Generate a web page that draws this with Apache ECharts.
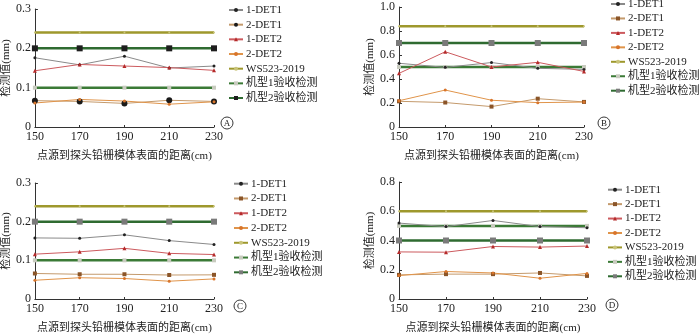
<!DOCTYPE html>
<html><head><meta charset="utf-8">
<script src="https://cdn.jsdelivr.net/npm/echarts@6/dist/echarts.min.js"></script>
<style>html,body{margin:0;padding:0;background:#fff}#c{width:700px;height:335px}</style>
</head><body><div id="c"></div>
<script>
const distances = [150, 170, 190, 210, 230];
const seriesNames = ['1-DET1', '2-DET1', '1-DET2', '2-DET2', 'WS523-2019', '机型1验收检测', '机型2验收检测'];
const xTicks = ['150', '170', '190', '210', '230'];
// Panel A
const A_1DET1 = [0.176, 0.158, 0.180, 0.150, 0.155];
const A_2DET1 = [0.067, 0.065, 0.060, 0.068, 0.065];
const A_1DET2 = [0.143, 0.159, 0.155, 0.151, 0.144];
const A_2DET2 = [0.061, 0.070, 0.066, 0.058, 0.064];
const A_WS = [0.24, 0.24, 0.24, 0.24, 0.24];
const A_M1 = [0.1, 0.1, 0.1, 0.1, 0.1];
const A_M2 = [0.2, 0.2, 0.2, 0.2, 0.2];
// Panel B
const B_1DET1 = [0.531, 0.497, 0.537, 0.489, 0.480];
const B_2DET1 = [0.214, 0.204, 0.170, 0.236, 0.209];
const B_1DET2 = [0.447, 0.627, 0.500, 0.539, 0.463];
const B_2DET2 = [0.219, 0.308, 0.223, 0.203, 0.208];
const B_WS = [0.84, 0.84, 0.84, 0.84, 0.84];
const B_M1 = [0.5, 0.5, 0.5, 0.5, 0.5];
const B_M2 = [0.7, 0.7, 0.7, 0.7, 0.7];
// Panel C
const C_1DET1 = [0.158, 0.157, 0.166, 0.151, 0.141];
const C_2DET1 = [0.066, 0.064, 0.064, 0.062, 0.0625];
const C_1DET2 = [0.116, 0.122, 0.131, 0.118, 0.115];
const C_2DET2 = [0.0485, 0.055, 0.053, 0.046, 0.052];
const C_WS = [0.24, 0.24, 0.24, 0.24, 0.24];
const C_M1 = [0.1, 0.1, 0.1, 0.1, 0.1];
const C_M2 = [0.2, 0.2, 0.2, 0.2, 0.2];
// Panel D
const D_1DET1 = [0.519, 0.495, 0.537, 0.495, 0.487];
const D_2DET1 = [0.165, 0.170, 0.170, 0.178, 0.158];
const D_1DET2 = [0.322, 0.320, 0.359, 0.355, 0.362];
const D_2DET2 = [0.160, 0.188, 0.178, 0.142, 0.175];
const D_WS = [0.6, 0.6, 0.6, 0.6, 0.6];
const D_M1 = [0.5, 0.5, 0.5, 0.5, 0.5];
const D_M2 = [0.4, 0.4, 0.4, 0.4, 0.4];

const panels = [
  {label: 'A', data: [A_1DET1, A_2DET1, A_1DET2, A_2DET2, A_WS, A_M1, A_M2], max: 0.3, interval: 0.1,
   grid: {left: 33, top: 9, width: 181, height: 118}, legend: {left: 228, top: 4, gap: 14.67}, circle: [227, 123], blackMarkers: true},
  {label: 'B', data: [B_1DET1, B_2DET1, B_1DET2, B_2DET2, B_WS, B_M1, B_M2], max: 1.0, interval: 0.2,
   grid: {left: 399, top: 7, width: 185, height: 120}, legend: {left: 610, top: -2, gap: 14.45}, circle: [604, 123]},
  {label: 'C', data: [C_1DET1, C_2DET1, C_1DET2, C_2DET2, C_WS, C_M1, C_M2], max: 0.3, interval: 0.1,
   grid: {left: 33, top: 183, width: 181, height: 122}, legend: {left: 233, top: 177.7, gap: 14.77}, circle: [240, 306]},
  {label: 'D', data: [D_1DET1, D_2DET1, D_1DET2, D_2DET2, D_WS, D_M1, D_M2], max: 0.8, interval: 0.2,
   grid: {left: 399, top: 182, width: 188, height: 122}, legend: {left: 607, top: 183.7, gap: 14.43}, circle: [612, 305]}
];

const serif = '"Liberation Serif", "Noto Sans CJK SC", serif';
const lineCols = ['#8a8a8a', '#c49a6c', '#cc5a5e', '#e0944a', '#9e982c', '#3b7a36', '#2f6b31'];
function markerCfg(i, black) {
  const m = [
    {symbol: 'circle', size: 3, color: '#222'},
    black ? {symbol: 'circle', size: 6, color: '#1a1a1a'} : {symbol: 'rect', size: 4, color: '#8b5528'},
    {symbol: 'triangle', size: 4, color: '#b52a2a'},
    {symbol: 'circle', size: 3, color: '#d8742a'},
    {symbol: 'circle', size: 2, color: '#c9c47a'},
    {symbol: 'rect', size: 4, color: '#c8cbbf'},
    black ? {symbol: 'rect', size: 6, color: '#1e1e1e'} : {symbol: 'rect', size: 6, color: '#7a7a7a'}
  ];
  return m[i];
}
const widths = [1, 1, 1, 1, 2.5, 2.5, 2.5];

const grids = [], xAxes = [], yAxes = [], series = [], legends = [], graphics = [];
panels.forEach((p, pi) => {
  grids.push(Object.assign({containLabel: false}, p.grid));
  xAxes.push({
    type: 'value', gridIndex: pi, min: 150, max: 230, interval: 20,
    name: '点源到探头铅栅模体表面的距离(cm)', nameLocation: 'middle', nameGap: 24,
    nameTextStyle: {fontFamily: serif, fontSize: 11, color: '#222'},
    axisLine: {lineStyle: {color: '#333', width: 1}},
    axisTick: {show: true, inside: true, length: 2, lineStyle: {color: '#333'}},
    axisLabel: {fontFamily: serif, fontSize: 12, color: '#222', margin: 4,
      formatter: v => xTicks[distances.indexOf(v)] || String(v)},
    splitLine: {show: false}
  });
  yAxes.push({
    type: 'value', gridIndex: pi, min: 0, max: p.max, interval: p.interval,
    name: '检测值(mm)', nameLocation: 'middle', nameGap: 22, nameRotate: 90,
    nameTextStyle: {fontFamily: serif, fontSize: 11, color: '#222'},
    axisLine: {show: true, lineStyle: {color: '#333', width: 1}},
    axisTick: {show: true, inside: true, length: 3, lineStyle: {color: '#333'}},
    axisLabel: {fontFamily: serif, fontSize: 12, color: '#222', margin: 4,
      formatter: v => (v === 0 ? '0' : v.toFixed(1))},
    splitLine: {show: false}
  });
  p.data.forEach((arr, si) => {
    const mk = markerCfg(si, p.blackMarkers);
    series.push({
      type: 'line', name: p.label + '|' + seriesNames[si], xAxisIndex: pi, yAxisIndex: pi,
      data: distances.map((d, k) => [d, arr[k]]),
      symbol: mk.symbol, symbolSize: mk.size, showAllSymbol: true,
      itemStyle: {color: mk.color, borderWidth: 0},
      lineStyle: {color: lineCols[si], width: widths[si]},
      z: si >= 4 ? 2 : 3, animation: false
    });
  });
  legends.push({
    left: p.legend.left, top: p.legend.top, orient: 'vertical', padding: 0,
    itemWidth: 14, itemHeight: 5, itemGap: p.legend.gap - 12,
    data: seriesNames.map(n => ({name: p.label + '|' + n})),
    formatter: n => n.split('|')[1],
    textStyle: {fontFamily: serif, fontSize: 11, color: '#222', lineHeight: 12, padding: [0, 0, 0, -2]},
    selectedMode: false
  });
  graphics.push({
    type: 'group', x: p.circle[0], y: p.circle[1],
    children: [
      {type: 'circle', shape: {cx: 0, cy: 0, r: 6}, style: {fill: 'none', stroke: '#222', lineWidth: 0.9}},
      {type: 'text', style: {text: p.label, x: 0, y: 0.5, align: 'center', verticalAlign: 'middle',
        font: '9px "Liberation Serif", serif', fill: '#222'}}
    ]
  });
});

const chart = echarts.init(document.getElementById('c'), null, {renderer: 'canvas'});
chart.setOption({
  animation: false,
  grid: grids, xAxis: xAxes, yAxis: yAxes, series: series,
  legend: legends, graphic: graphics
});
</script></body></html>
